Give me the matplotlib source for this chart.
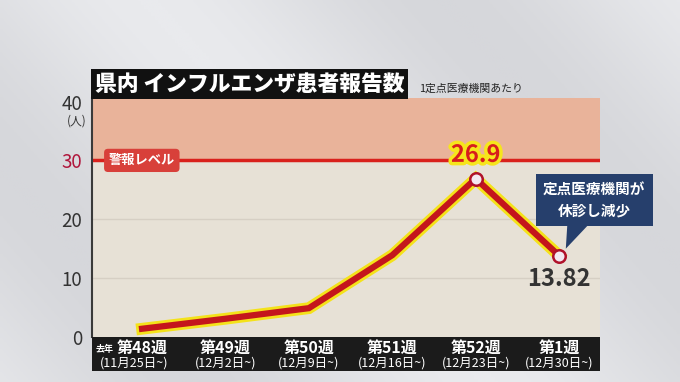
import matplotlib
matplotlib.use("Agg")
import matplotlib.pyplot as plt
import matplotlib.patheffects as pe
from matplotlib.patches import Polygon
import numpy as np

plt.rcParams['font.family'] = ['Noto Sans CJK JP', 'DejaVu Sans']

# data
weeks = ['第48週', '第49週', '第50週', '第51週', '第52週', '第1週']
dates = ['(11月25日~)', '(12月2日~)', '(12月9日~)', '(12月16日~)', '(12月23日~)', '(12月30日~)']
values = [1.4, 3.1, 4.9, 13.9, 26.9, 13.82]
yticks = [0, 10, 20, 30, 40]
alert = 30

W, H = 680, 382
fig = plt.figure(figsize=(W / 100, H / 100), dpi=100)
fig.patch.set_facecolor('#dcdde1')

# light background gradient
bg = fig.add_axes([0, 0, 1, 1], zorder=-10)
gy, gx = np.mgrid[0:1:200j, 0:1:200j]
grad = 0.5 + 0.5 * np.sin((gx * 1.2 - gy * 0.6) * 6)
bg.imshow(grad, cmap=matplotlib.colors.LinearSegmentedColormap.from_list('g', ['#d6d7db', '#e9eaed']),
          extent=[0, 1, 0, 1], aspect='auto')
bg.axis('off')

def px(x0, y0, x1, y1):
    return [x0 / W, 1 - y1 / H, (x1 - x0) / W, (y1 - y0) / H]

ax = fig.add_axes(px(92, 98, 600, 337))
ax.set_facecolor('#e7e1d6')
ax.set_xlim(-0.6, 5.49)
ax.set_ylim(0, 40.6)
ax.axhspan(alert, 41, color='#e9b39a', zorder=0)
for g in [10, 20]:
    ax.axhline(g, color='#d6cfc4', lw=1, zorder=1)
ax.axhline(alert, color='#d9211c', lw=2.5, zorder=2)

for s in ['top', 'right', 'bottom']:
    ax.spines[s].set_visible(False)
ax.spines['left'].set_color('#3a3a3a')
ax.spines['left'].set_linewidth(1.5)
ax.set_xticks([])
ax.set_yticks(yticks)
ax.set_yticklabels([str(t) for t in yticks], fontsize=13.5)
ax.tick_params(axis='y', length=0, pad=7)
for t, lab in zip(yticks, ax.get_yticklabels()):
    lab.set_color('#b0163c' if t == alert else '#333333')
ax.text(-0.78, 36.7, '(人)', ha='center', va='center', fontsize=8.5, color='#333333', clip_on=False)

x = np.arange(len(values))
ax.plot(x, values, color='#c4161c', lw=4.5, solid_joinstyle='miter', zorder=5,
        path_effects=[pe.Stroke(linewidth=8.5, foreground='#f4e21a'), pe.Normal()])
ax.plot(x[4:], values[4:], 'o', ms=9, mfc='#f3e9f1', mec='#b0122a', mew=1.8, zorder=6)

ax.text(x[4], values[4] + 2.0, f'{values[4]}', ha='center', va='bottom', fontsize=17, fontweight='bold',
        color='#d71d1d', zorder=7,
        path_effects=[pe.Stroke(linewidth=5, foreground='#f6e51c'), pe.Normal()])
ax.text(x[5], values[5] - 2.0, f'{values[5]}', ha='center', va='top', fontsize=17, fontweight='bold',
        color='#333333', zorder=7)

# alert label
ax.text(-0.4, alert, '警報レベル', ha='left', va='center', fontsize=9.5, fontweight='bold', color='white', zorder=4,
        bbox=dict(boxstyle='round,pad=0.35,rounding_size=0.3', fc='#d8403a', ec='none'))

# callout
ax.text(5.42, 23.3, '定点医療機関が\n休診し減少', ha='center', va='center', fontsize=10.5, fontweight='bold',
        color='white', linespacing=1.4, zorder=8, clip_on=False,
        bbox=dict(boxstyle='square,pad=0.5', fc='#263f6c', ec='none'))
tri = Polygon([(5.1, 19.5), (5.38, 19.5), (5.08, 15.0)], closed=True, fc='#263f6c', ec='none',
              zorder=8, clip_on=False)
ax.add_patch(tri)

# bottom band
bx = fig.add_axes(px(92, 337, 600, 371), sharex=ax)
bx.set_ylim(0, 1)
bx.axis('off')
bx.add_patch(plt.Rectangle((-0.6, 0), 6.1, 1, color='#1b1b1b'))
for i, (w, d) in enumerate(zip(weeks, dates)):
    bx.text(i, 0.68, w, ha='center', va='center', fontsize=11.5, fontweight='bold', color='white')
    bx.text(i - (0.1 if i == 0 else 0), 0.22, d, ha='center', va='center', fontsize=9, color='white')
bx.text(-0.56, 0.64, '去年', ha='left', va='center', fontsize=6.5, fontweight='bold', color='white')

# title
fig.text(95 / W, 1 - 84 / H, '県内 インフルエンザ患者報告数', ha='left', va='center', fontsize=15.7, fontweight='heavy',
         color='white', bbox=dict(boxstyle='square,pad=0.18', fc='#111111', ec='none'))
fig.text(419 / W, 1 - 89 / H, '1定点医療機関あたり', ha='left', va='center', fontsize=7.8, color='#222222')

fig.savefig('out.png', dpi=100, facecolor=fig.get_facecolor())
